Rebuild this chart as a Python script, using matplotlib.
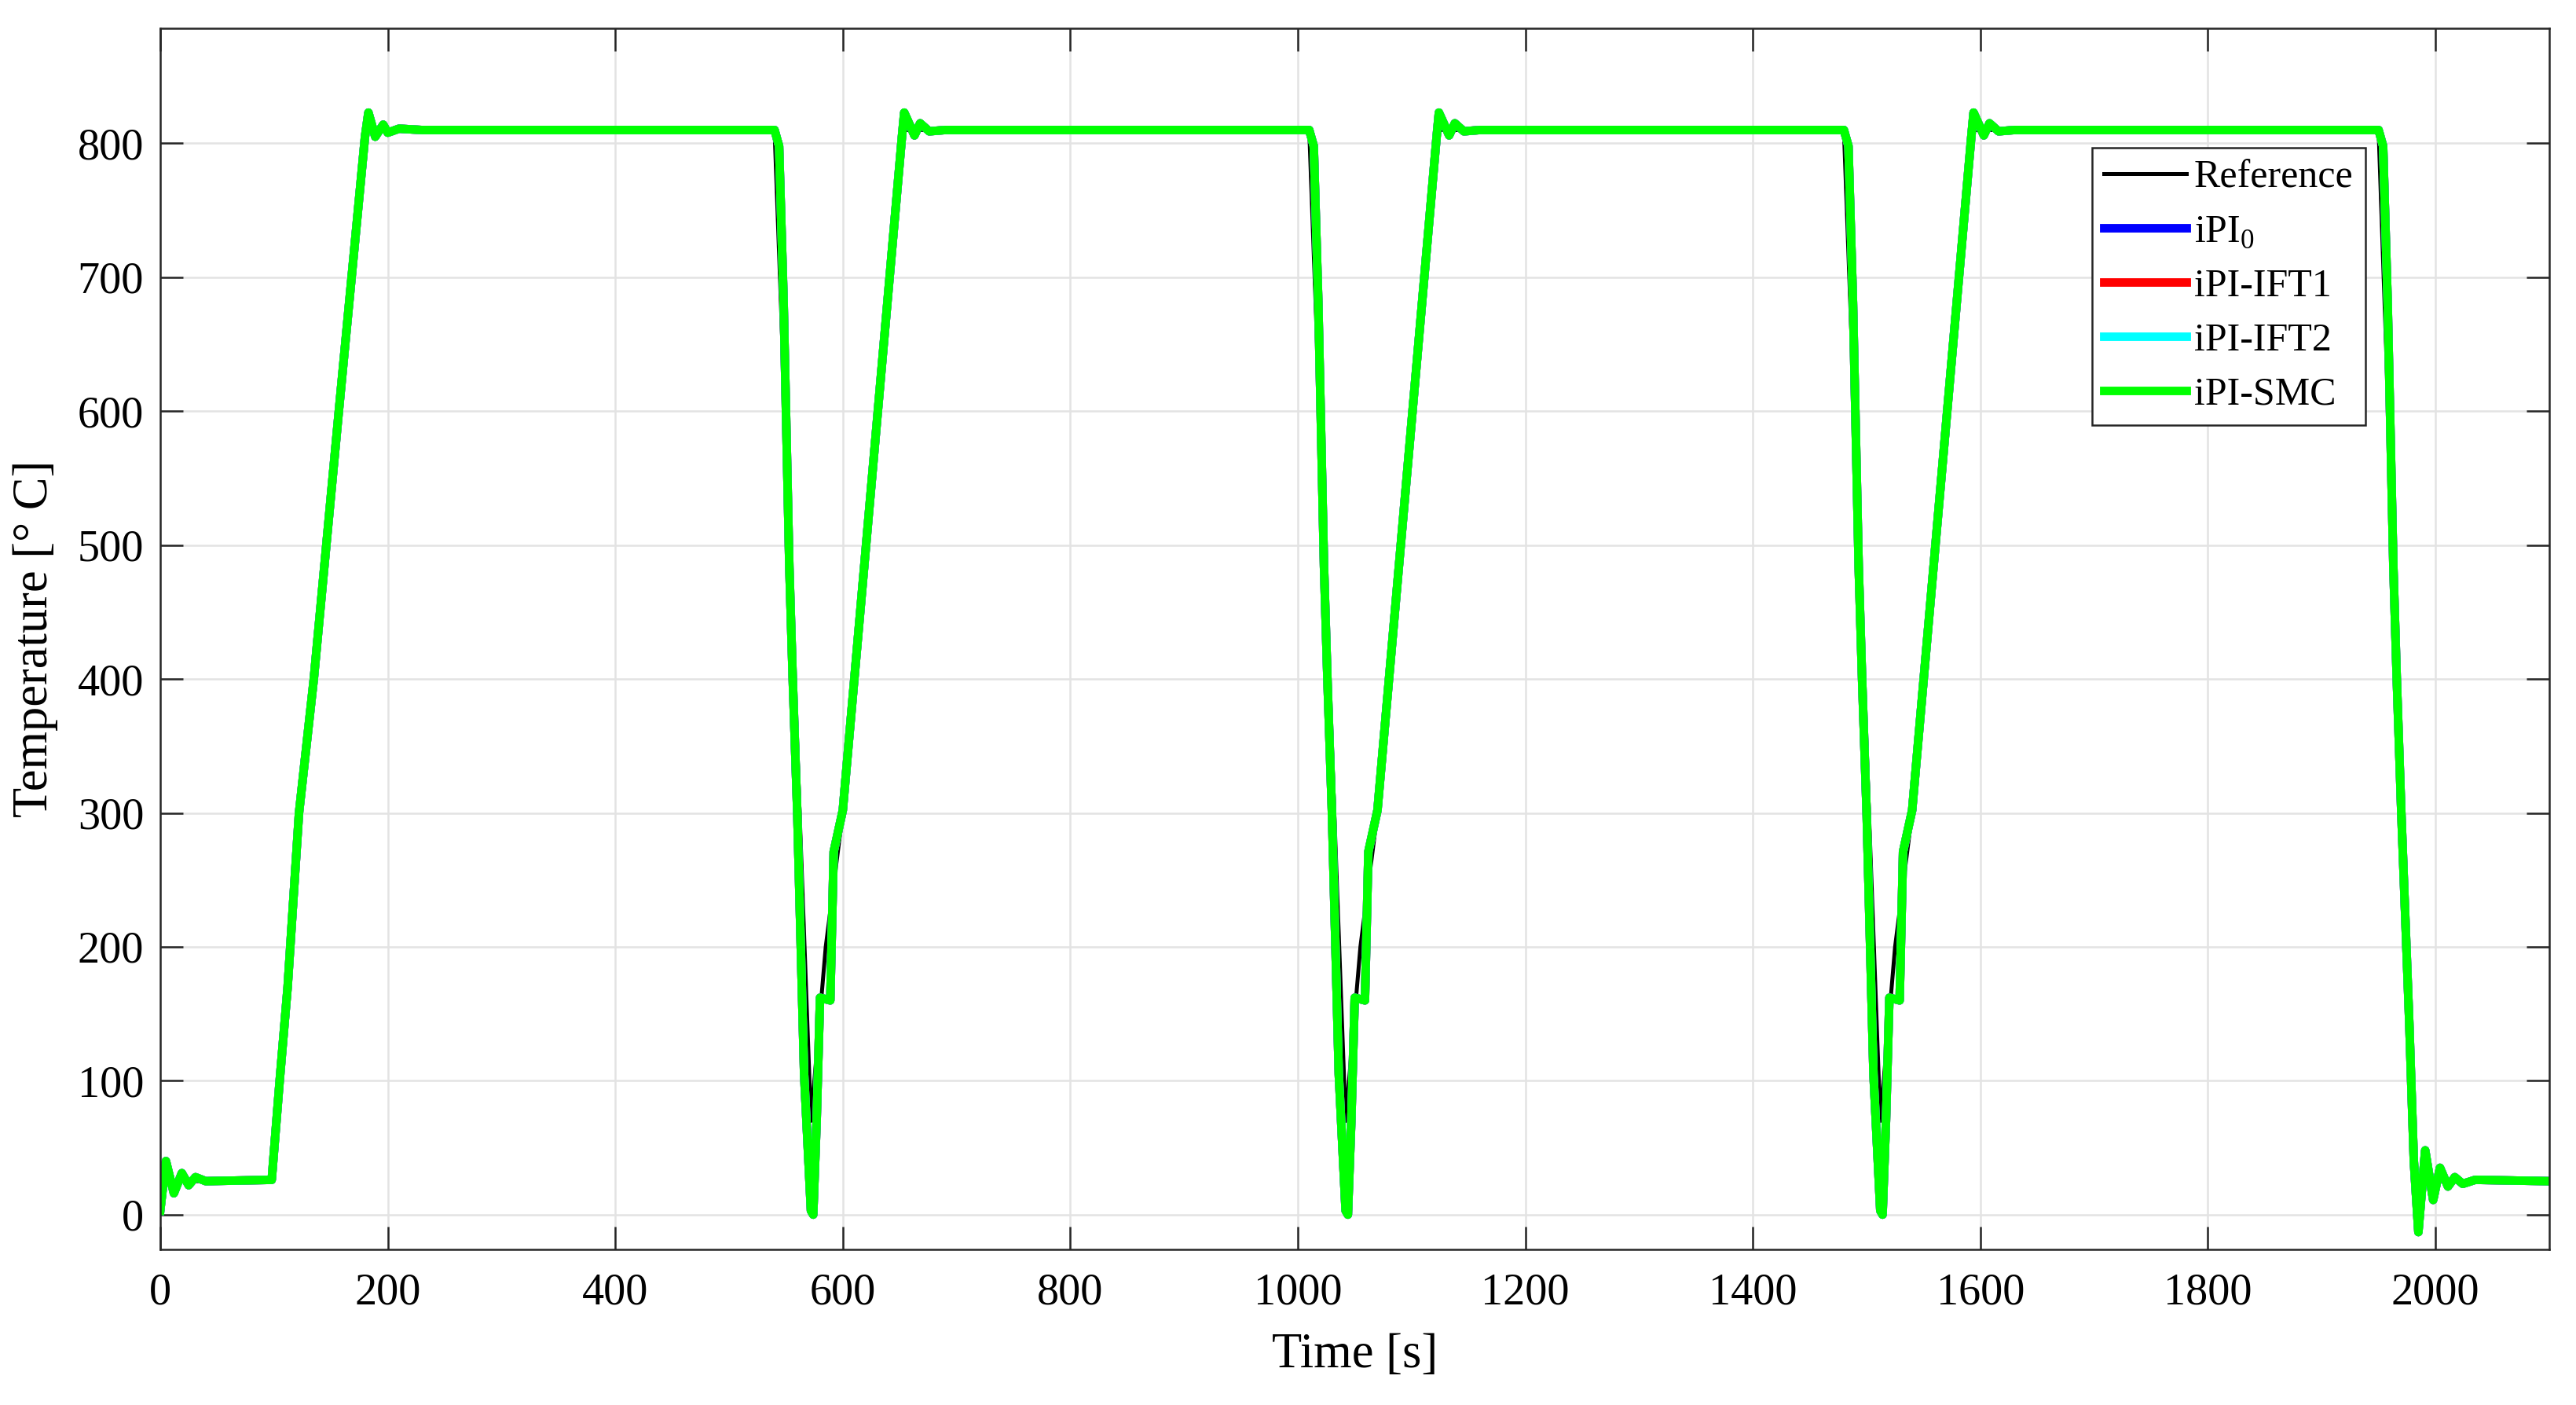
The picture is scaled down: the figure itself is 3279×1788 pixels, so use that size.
import numpy as np
import matplotlib.pyplot as plt

plt.rcParams['font.family'] = ['Liberation Serif', 'DejaVu Serif']
plt.rcParams['mathtext.fontset'] = 'custom'
plt.rcParams['mathtext.rm'] = 'Liberation Serif'

# Reference temperature profile (setpoint) [s], [deg C]
t_ref = [0, 97, 104, 111, 121, 134, 156, 180,
         540, 572, 585, 600, 652,
         1010, 1042, 1055, 1070, 1122,
         1480, 1512, 1525, 1540, 1592,
         1950, 1982, 2100]
T_ref = [25, 25, 100, 170, 300, 400, 600, 810,
         810, 70, 200, 300, 810,
         810, 70, 200, 300, 810,
         810, 70, 200, 300, 810,
         810, 25, 25]

# iPI-SMC response (other controllers overlap it)
t_smc = [0, 5, 12, 19, 25, 31, 40, 98, 105, 112, 122, 135, 157, 180, 183, 189, 196, 200, 210, 230,
         540, 544, 548, 553, 556, 560, 566, 572, 574, 577, 580, 589, 592, 600, 652, 654, 663, 668, 676, 690,
         1010, 1014, 1018, 1023, 1026, 1030, 1036, 1042, 1044, 1047, 1050, 1059, 1062, 1070, 1122, 1124, 1133, 1138, 1146, 1160,
         1480, 1484, 1488, 1493, 1496, 1500, 1506, 1512, 1514, 1517, 1520, 1529, 1532, 1540, 1592, 1594, 1603, 1608, 1616, 1630,
         1950, 1954, 1958, 1963, 1966, 1970, 1977, 1981, 1985, 1991, 1998, 2004, 2011, 2017, 2024, 2035, 2100]
T_smc = [3, 40, 16, 31, 22, 28, 25, 26, 100, 170, 300, 400, 600, 805, 823, 805, 814, 808, 811, 810,
         810, 798, 681, 484, 400, 300, 105, 3, 0, 70, 162, 160, 271, 302, 805, 823, 806, 815, 809, 810,
         810, 798, 681, 484, 400, 300, 105, 3, 0, 70, 162, 160, 271, 302, 805, 823, 806, 815, 809, 810,
         810, 798, 681, 484, 400, 300, 105, 3, 0, 70, 162, 160, 271, 302, 805, 823, 806, 815, 809, 810,
         810, 798, 681, 484, 400, 300, 143, 40, -13, 48, 11, 35, 21, 28, 23, 26, 25]

# iPI0, iPI-IFT1 and iPI-IFT2 are indistinguishable from iPI-SMC in the figure
t_ipi0, T_ipi0 = t_smc, T_smc
t_ift1, T_ift1 = t_smc, T_smc
t_ift2, T_ift2 = t_smc, T_smc

fig = plt.figure(figsize=(10.93, 5.96), dpi=300)
ax = fig.add_axes([0.0622, 0.1107, 0.9274, 0.8692])

ax.plot(t_ref, T_ref, color='k', lw=1.2, label='Reference')
ax.plot(t_ipi0, T_ipi0, color='#0000FF', lw=2.6, label=r'iPI$_\mathrm{0}$')
ax.plot(t_ift1, T_ift1, color='#FF0000', lw=2.6, label='iPI-IFT1')
ax.plot(t_ift2, T_ift2, color='#00FFFF', lw=2.6, label='iPI-IFT2')
ax.plot(t_smc, T_smc, color='#00FF00', lw=2.6, label='iPI-SMC')

ax.set_xlim(0, 2100)
ax.set_ylim(-26, 886)
ax.set_xticks(np.arange(0, 2001, 200))
ax.set_yticks(np.arange(0, 801, 100))
ax.grid(True, color='#e3e3e3', lw=0.6)
ax.set_axisbelow(True)
ax.tick_params(direction='in', length=7, width=0.6, top=True, right=True,
               labelsize=13.5, colors='#262626', labelcolor='k')
ax.tick_params(axis='y', pad=5)
ax.tick_params(axis='x', pad=7)
for s in ax.spines.values():
    s.set_color('#262626')
    s.set_linewidth(0.6)

ax.set_xlabel('Time [s]', fontsize=15, labelpad=6)
ax.set_ylabel('Temperature [° C]', fontsize=15, labelpad=6)

leg = ax.legend(loc='upper right', bbox_to_anchor=(0.923, 0.902), fontsize=12,
                handlelength=2.1, handletextpad=0.2, labelspacing=0.45,
                borderpad=0.3, fancybox=False, framealpha=1, borderaxespad=0)
leg.get_frame().set_edgecolor('#262626')
leg.get_frame().set_linewidth(0.6)

fig.savefig('out.png', dpi=300)
